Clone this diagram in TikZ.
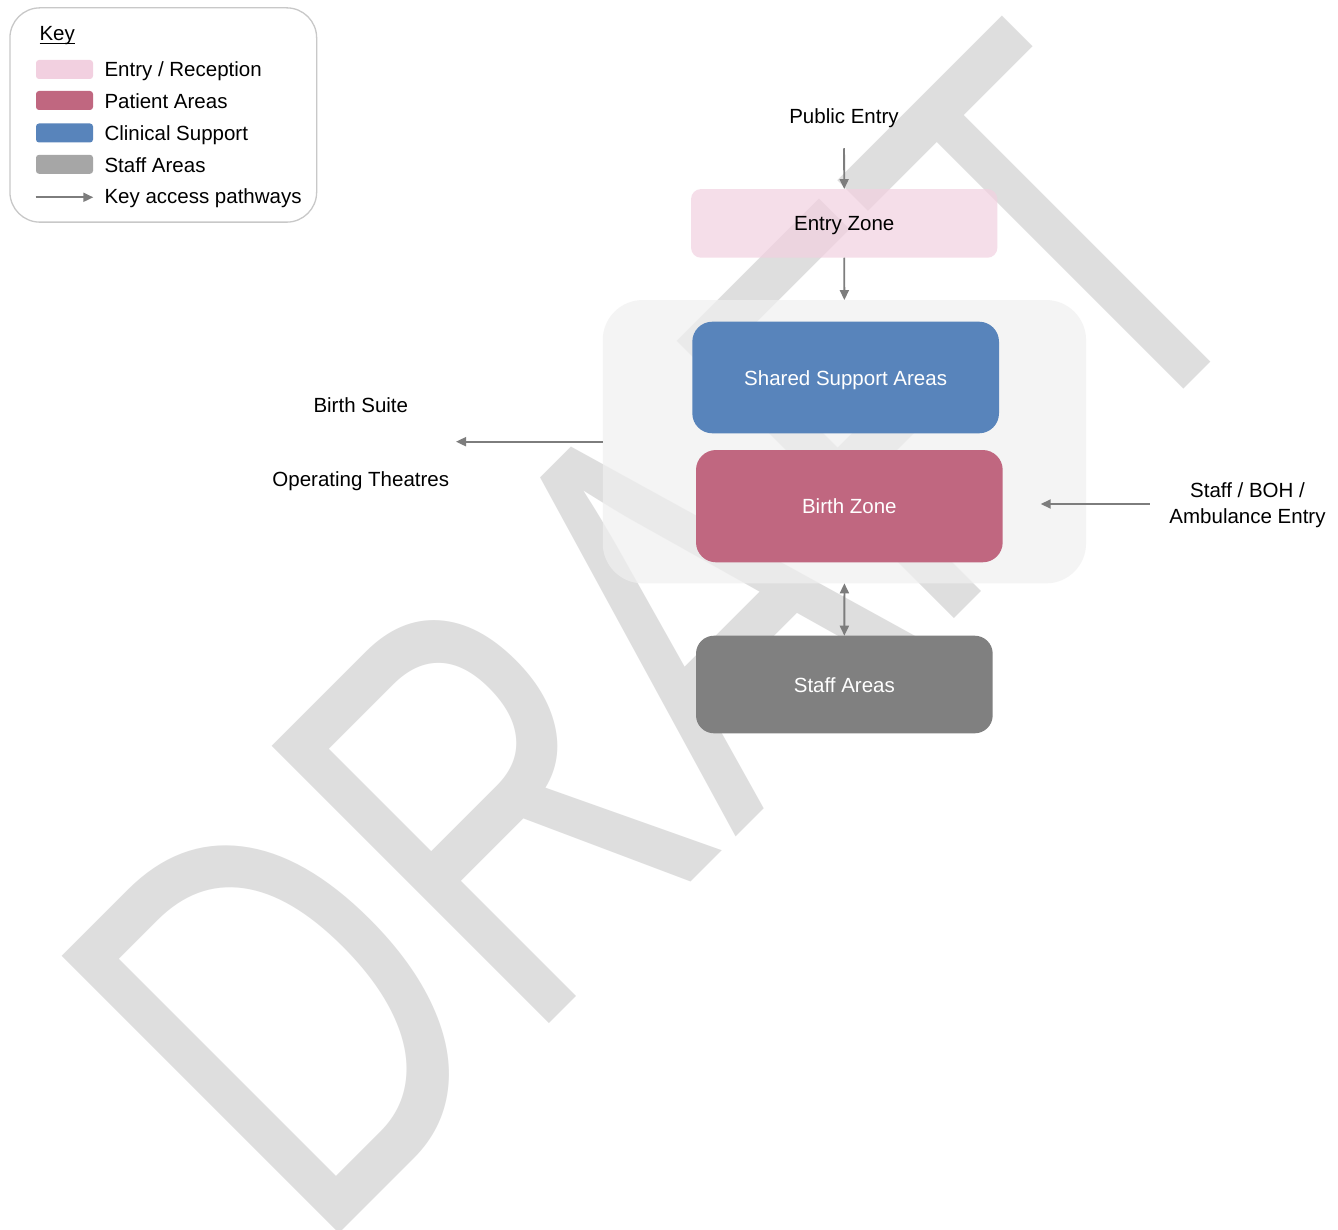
\documentclass[tikz,border=0pt]{standalone}
\usepackage{fontspec}
\setmainfont{Liberation Sans}
\usetikzlibrary{arrows.meta}
\definecolor{wmgray}{RGB}{222,222,222}
\definecolor{entrypink}{RGB}{242,208,224}
\definecolor{patientrose}{RGB}{192,103,128}
\definecolor{clinblue}{RGB}{88,132,187}
\definecolor{staffgray}{RGB}{166,166,166}
\definecolor{staffbox}{RGB}{128,128,128}
\definecolor{contfill}{RGB}{240,240,240}
\definecolor{arrowgray}{RGB}{125,125,125}
\definecolor{keyborder}{RGB}{200,200,200}
\begin{document}
\begin{tikzpicture}[x=1pt,y=-1pt,
  lbl/.style={font=\fontsize{20.5}{25.6}\selectfont, inner sep=0pt, outer sep=0pt},
  zone/.style={lbl, rectangle, text height=15pt, text depth=0pt},
  swatch/.style={rectangle, inner sep=0pt, outer sep=0pt, minimum width=57pt, minimum height=19pt, rounded corners=3pt},
  arr/.style={draw=arrowgray, line width=1.8pt, -{Triangle[length=10pt,width=9pt]}},
  darr/.style={draw=arrowgray, line width=1.8pt, {Triangle[length=10pt,width=9pt]}-{Triangle[length=10pt,width=9pt]}},
  wmtext/.style={rotate=45, anchor=base west, inner sep=0pt, outer sep=0pt, text=wmgray, font=\fontsize{570}{570}\selectfont}
]
\fill[white] (0,0) rectangle (1338,1230);
\useasboundingbox (0,0) rectangle (1338,1230);

% watermark
\begin{scope}
\clip (0,0) rectangle (1338,1230);
\node[wmtext] (wm) at (315.5,1257.5) {\scalebox{0.7225}[1]{DRAFT}};
\end{scope}

% legend
\node[draw=keyborder, line width=1.3pt, rounded corners=30pt, minimum width=306.7pt, minimum height=214.3pt, inner sep=0pt] (keybox) at (163.3,115) {};
\node[lbl, anchor=base west] (keyt) at (39.5,41) {Key};
\draw[line width=1pt] ([yshift=-2.5pt]keyt.base west) -- ([yshift=-2.5pt]keyt.base east);
\node[swatch, fill=entrypink] (swe) at (64.5,69.5) {};
\node[swatch, fill=patientrose] (swp) at (64.5,100.5) {};
\node[swatch, fill=clinblue] (swc) at (64.5,133) {};
\node[swatch, fill=staffgray] (sws) at (64.5,164.3) {};
\node[lbl, anchor=base west] (te) at (104.5,76.7) {Entry / Reception};
\node[lbl, anchor=base west] (tp) at (104.5,109) {Patient Areas};
\node[lbl, anchor=base west] (tc) at (104.5,141) {Clinical Support};
\node[lbl, anchor=base west] (ts) at (104.5,172.3) {Staff Areas};
\node[lbl, anchor=base west] (ta) at (104.5,204) {Key access pathways};
\coordinate (la1) at (35.7,197.3);
\coordinate (la2) at (93.3,197.3);
\draw[arr] (la1) -- (la2);

% main diagram
\node[fill=contfill, fill opacity=0.72, minimum width=483.3pt, minimum height=283.3pt, rounded corners=40pt, inner sep=0pt, outer sep=0pt] (cont) at (844.4,441.7) {};
\node[lbl, anchor=base] (pub) at (844,123.3) {Public Entry};
\node[zone, fill=entrypink, fill opacity=0.7, text opacity=1, minimum width=306.3pt, minimum height=68.7pt, rounded corners=10pt] (entry) at (844.2,223.4) {Entry Zone};
\node[zone, fill=clinblue, text=white, minimum width=306.7pt, minimum height=111.6pt, rounded corners=20pt] (shared) at (845.65,377.5) {Shared Support Areas};
\node[zone, fill=patientrose, text=white, minimum width=306.7pt, minimum height=112.3pt, rounded corners=20pt] (birth) at (849.35,506.15) {Birth Zone};
\node[zone, fill=staffbox, text=white, minimum width=296.7pt, minimum height=97.6pt, rounded corners=18pt] (staff) at (844.35,684.5) {Staff Areas};

\node[lbl, anchor=base] (bsuite) at (360.8,412.3) {Birth Suite};
\node[lbl, anchor=base] (otheat) at (360.8,486.7) {Operating Theatres};
\node[lbl, align=center] (rlbl) at (1247.5,505.3) {Staff / BOH /\\Ambulance Entry};
\coordinate (lefttip) at (456,441.7);
\coordinate (rtip) at (1040.7,504);

\draw[arr, shorten <=20.7pt] (pub.south) -- (entry.north);
\draw[arr] (entry.south) -- (cont.north);
\draw[arr] (cont.west) -- (lefttip);
\draw[arr, shorten <=19.5pt] (rtip -| rlbl.west) -- (rtip);
\draw[darr] (cont.south) -- (staff.north);
\end{tikzpicture}
\end{document}
